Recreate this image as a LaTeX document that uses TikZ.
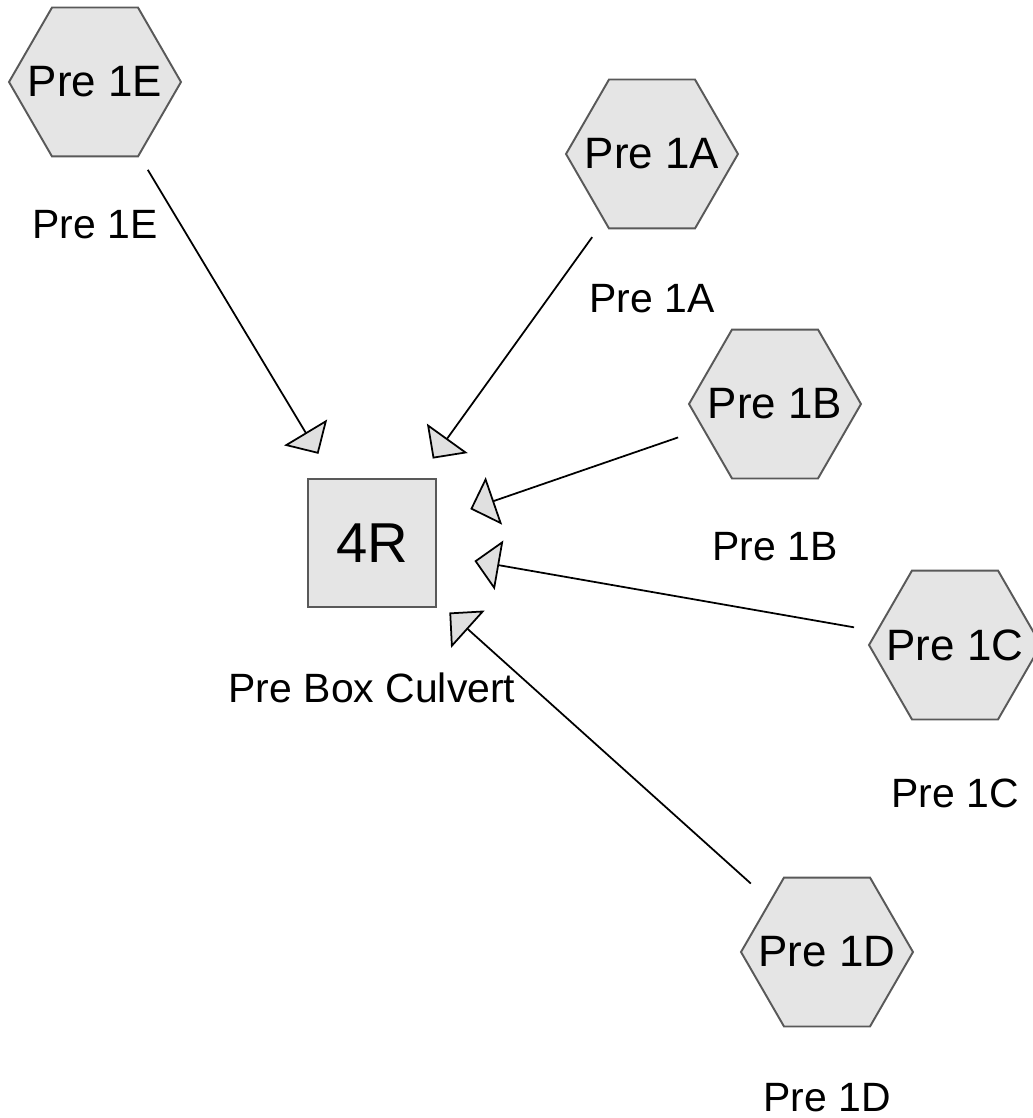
\documentclass[tikz,border=0pt]{standalone}
\usepackage{fontspec}
\setmainfont{Liberation Sans}
\usetikzlibrary{shapes.geometric,arrows.meta,calc}
\begin{document}
\begin{tikzpicture}[x=0.02cm, y=-0.02cm,
		hexnode/.style={regular polygon, regular polygon sides=6, minimum size=3.44cm, inner sep=0pt, draw=black!65, fill=black!10, line width=1.1pt},
		hextext/.style={inner sep=0pt, font=\fontsize{25}{30}\selectfont},
		boxnode/.style={rectangle, minimum size=2.56cm, inner sep=0pt, draw=black!65, fill=black!10, line width=1.1pt, font=\fontsize{32}{38}\selectfont},
		tag/.style={inner sep=0pt, font=\fontsize{23.3}{28}\selectfont},
		feed/.style={line width=1pt, shorten <=2.05cm, shorten >=2.08cm, -{Triangle[length=0.5cm, width=1.0cm, fill=black!12]}}]
			\useasboundingbox (0,0) rectangle (1033,1118);
			\node[boxnode] (r) at (372,543) {4R};
			\node[tag] (lr) at ($(r)+(0,145)$) {Pre Box Culvert};
			\node[hexnode, label={[hextext]center:Pre 1E}] (e) at (95,82) {};
			\node[tag] (le) at ($(e)+(0,143)$) {Pre 1E};
			\node[hexnode, label={[hextext]center:Pre 1A}] (a) at (652,154) {};
			\node[tag] (la) at ($(a)+(0,145)$) {Pre 1A};
			\node[hexnode, label={[hextext]center:Pre 1B}] (b) at (775,404) {};
			\node[tag] (lb) at ($(b)+(0,143)$) {Pre 1B};
			\node[hexnode, label={[hextext]center:Pre 1C}] (c) at (955,645) {};
			\node[tag] (lc) at ($(c)+(0,148)$) {Pre 1C};
			\node[hexnode, label={[hextext]center:Pre 1D}] (d) at (827,952) {};
			\node[tag] (ld) at ($(d)+(0,146)$) {Pre 1D};
			\draw[feed] (e.center) -- (r.center);
			\draw[feed] (a.center) -- (r.center);
			\draw[feed] (b.center) -- (r.center);
			\draw[feed] (c.center) -- (r.center);
			\draw[feed] (d.center) -- (r.center);
		\end{tikzpicture}
\end{document}
